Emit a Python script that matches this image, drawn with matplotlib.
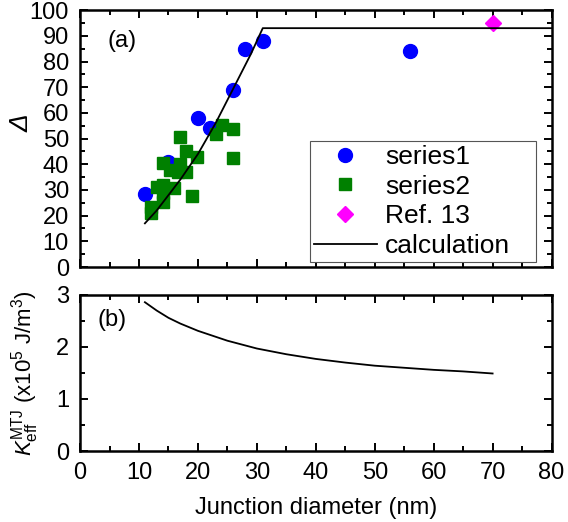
import numpy as np
import matplotlib
matplotlib.use("Agg")
import matplotlib.pyplot as plt
from matplotlib.ticker import MultipleLocator

plt.rcParams['font.family'] = ['Liberation Sans', 'DejaVu Sans']
plt.rcParams['mathtext.fontset'] = 'custom'
plt.rcParams['mathtext.rm'] = 'Liberation Sans'
plt.rcParams['mathtext.it'] = 'Liberation Sans:italic'

# (a) thermal stability factor
s1_x = [11, 15, 20, 22, 26, 28, 31, 56]
s1_y = [28.5, 41, 58, 54, 69, 85, 88, 84]

s2_x = [17, 24.1, 23.1, 26, 26, 19.9, 18, 17, 14.1, 15.3, 18, 16.6,
        13.1, 14.1, 16, 14, 19, 12, 14, 12]
s2_y = [50.7, 55.3, 51.8, 53.6, 42.5, 43, 45, 40.3, 40.5, 37.7, 37.1, 37.1,
        31, 32, 30.6, 28.7, 27.8, 23.5, 25.4, 21]

ref_x = [70]
ref_y = [95]

calc_x = [11, 13, 15, 17, 20, 23, 26, 29, 31, 80]
calc_y = [17, 22, 28, 34, 44, 56, 69.5, 83, 93, 93]

# (b) effective anisotropy
keff_x = [11, 13, 15, 17, 20, 25, 30, 35, 40, 45, 50, 55, 60, 65, 70]
keff_y = [2.86, 2.70, 2.56, 2.45, 2.31, 2.12, 1.97, 1.86, 1.77, 1.70, 1.64,
          1.60, 1.56, 1.53, 1.49]

fs = 17
fig = plt.figure(figsize=(5.68, 5.22), dpi=100)
ax1 = fig.add_axes([0.141, 0.4885, 0.830, 0.492])
ax2 = fig.add_axes([0.141, 0.136, 0.830, 0.299])

ax1.plot(s1_x, s1_y, 'o', color='#0000ff', ms=10, mec='#0000ff', label='series1', zorder=3)
ax1.plot(s2_x, s2_y, 's', color='#008000', ms=8.5, mec='#008000', label='series2', zorder=3)
ax1.plot(ref_x, ref_y, 'D', color='#ff00ff', ms=8.5, mec='#ff00ff', label='Ref. 13', zorder=3)
ax1.plot(calc_x, calc_y, '-', color='black', lw=1.3, label='calculation', zorder=4)

ax2.plot(keff_x, keff_y, '-', color='black', lw=1.3)

for ax in (ax1, ax2):
    ax.set_xlim(0, 80)
    ax.xaxis.set_major_locator(MultipleLocator(10))
    ax.xaxis.set_minor_locator(MultipleLocator(5))
    ax.tick_params(which='both', direction='in', top=True, right=True, width=1.4)
    ax.tick_params(which='major', length=6, labelsize=fs, pad=8)
    ax.tick_params(which='minor', length=3.5)
    for sp in ax.spines.values():
        sp.set_linewidth(1.8)

ax1.set_ylim(0, 100)
ax1.yaxis.set_major_locator(MultipleLocator(10))
ax1.yaxis.set_minor_locator(MultipleLocator(5))
ax1.tick_params(labelbottom=False)
ax1.set_ylabel('Δ', fontsize=19, fontstyle='italic')
ax1.yaxis.set_label_coords(-0.098, 0.56)
ax1.text(0.089, 0.88, '(a)', transform=ax1.transAxes, fontsize=fs, ha='center', va='center')

# legend box stretched to the reference frame (wider than its text)
leg = ax1.legend(loc='lower left', bbox_to_anchor=(0.487, 0.019, 0.481, 0.5), mode='expand',
                 fontsize=19, frameon=True, fancybox=False, edgecolor='#555555', framealpha=1,
                 handlelength=2.4, handletextpad=0.3, borderpad=0.15, labelspacing=0.22,
                 borderaxespad=0)
leg.get_frame().set_linewidth(0.8)

ax2.set_ylim(0, 3)
ax2.yaxis.set_major_locator(MultipleLocator(1))
ax2.yaxis.set_minor_locator(MultipleLocator(0.5))
ax2.set_ylabel(r'$K_{\rm eff}^{\rm MTJ}$ (x10$^5$ J/m$^3$)', fontsize=16)
ax2.yaxis.set_label_coords(-0.083, 0.5)
ax2.set_xlabel('Junction diameter (nm)', fontsize=fs, labelpad=9)
ax2.text(0.068, 0.84, '(b)', transform=ax2.transAxes, fontsize=fs, ha='center', va='center')

fig.savefig('out.png', dpi=100)
